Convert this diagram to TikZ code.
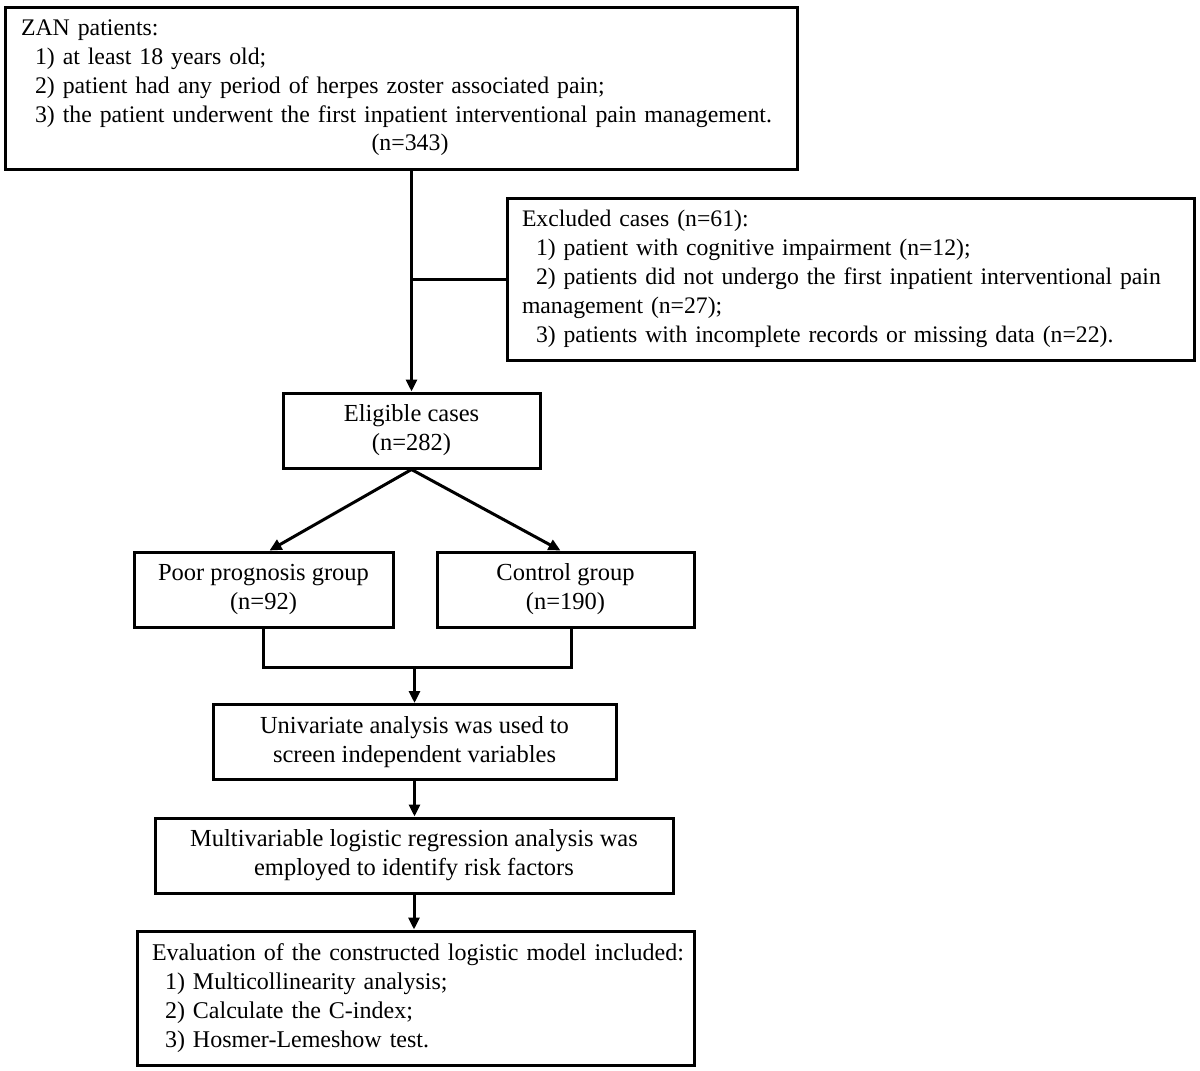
\documentclass[tikz,border=0pt]{standalone}
\usepackage{fontspec}
\setmainfont{Liberation Serif}
\usetikzlibrary{arrows.meta}
\begin{document}
\begin{tikzpicture}[x=1pt,y=-1pt,
  box/.style={draw,line width=3pt,inner sep=0pt,font=\fontsize{24.5}{29}\selectfont},
  leftbox/.style={box,align=left},
  midbox/.style={box,align=center},
  conn/.style={line width=3pt},
  arr/.style={conn,-{Triangle[length=12pt,width=11pt]}}]
\useasboundingbox (0,0) rectangle (1200,1071);
\fill[white] (0,0) rectangle (1200,1071);
% boxes
\node[leftbox,minimum width=792pt,minimum height=162pt,text width=760pt,font=\fontsize{23.8}{28.7}\selectfont] (top) at (401,88)
  {ZAN patients:\\
   \hspace*{14pt}1) at least 18 years old;\\
   \hspace*{14pt}2) patient had any period of herpes zoster associated pain;\\
   \hspace*{14pt}3) the patient underwent the first inpatient interventional pain management.\\
   \makebox[760pt]{\hspace*{18pt}(n=343)}};
\node[leftbox,minimum width=687pt,minimum height=162pt,text width=657pt,font=\fontsize{23.7}{29}\selectfont] (excl) at (850.5,279)
  {Excluded cases (n=61):\\
   \hspace*{14pt}1) patient with cognitive impairment (n=12);\\
   \hspace*{14pt}2) patients did not undergo the first inpatient interventional pain\\
   management (n=27);\\
   \hspace*{14pt}3) patients with incomplete records or missing data (n=22).};
\node[midbox,minimum width=257pt,minimum height=75pt] (elig) at (411.5,430.5)
  {Eligible cases\\(n=282)};
\node[midbox,minimum width=259pt,minimum height=75pt] (poor) at (263.5,589.5)
  {Poor prognosis group\\(n=92)};
\node[midbox,minimum width=257pt,minimum height=75pt] (ctrl) at (565.5,589.5)
  {Control group\\(n=190)};
\node[midbox,minimum width=403pt,minimum height=75pt] (univ) at (414.5,742)
  {Univariate analysis was used to\\screen independent variables};
\node[midbox,minimum width=518pt,minimum height=75pt] (multi) at (414,855.5)
  {Multivariable logistic regression analysis was\\employed to identify risk factors};
\node[leftbox,minimum width=557pt,minimum height=134pt,text width=527pt,font=\fontsize{24}{29}\selectfont] (eval) at (415.5,998)
  {\mbox{Evaluation of the constructed logistic model included:}\\
   \hspace*{13pt}1) Multicollinearity analysis;\\
   \hspace*{13pt}2) Calculate the C-index;\\
   \hspace*{13pt}3) Hosmer-Lemeshow test.};
% connectors
\coordinate (j) at (414.5,667);
\draw[arr] (elig.north |- top.south) -- (elig.north);
\draw[conn] (elig.north |- excl.west) -- (excl.west);
\draw[arr] (elig.south) -- ([xshift=6pt]poor.north);
\draw[arr] (elig.south) -- ([xshift=-5pt]ctrl.north);
\draw[conn] (poor.south) -- (poor.south |- j) -- ([xshift=6pt]ctrl.south |- j) -- ([xshift=6pt]ctrl.south);
\draw[arr] (univ.north |- j) -- (univ.north);
\draw[arr] (univ.south) -- (univ.south |- multi.north);
\draw[arr] (multi.south) -- (multi.south |- eval.north);
\end{tikzpicture}
\end{document}
